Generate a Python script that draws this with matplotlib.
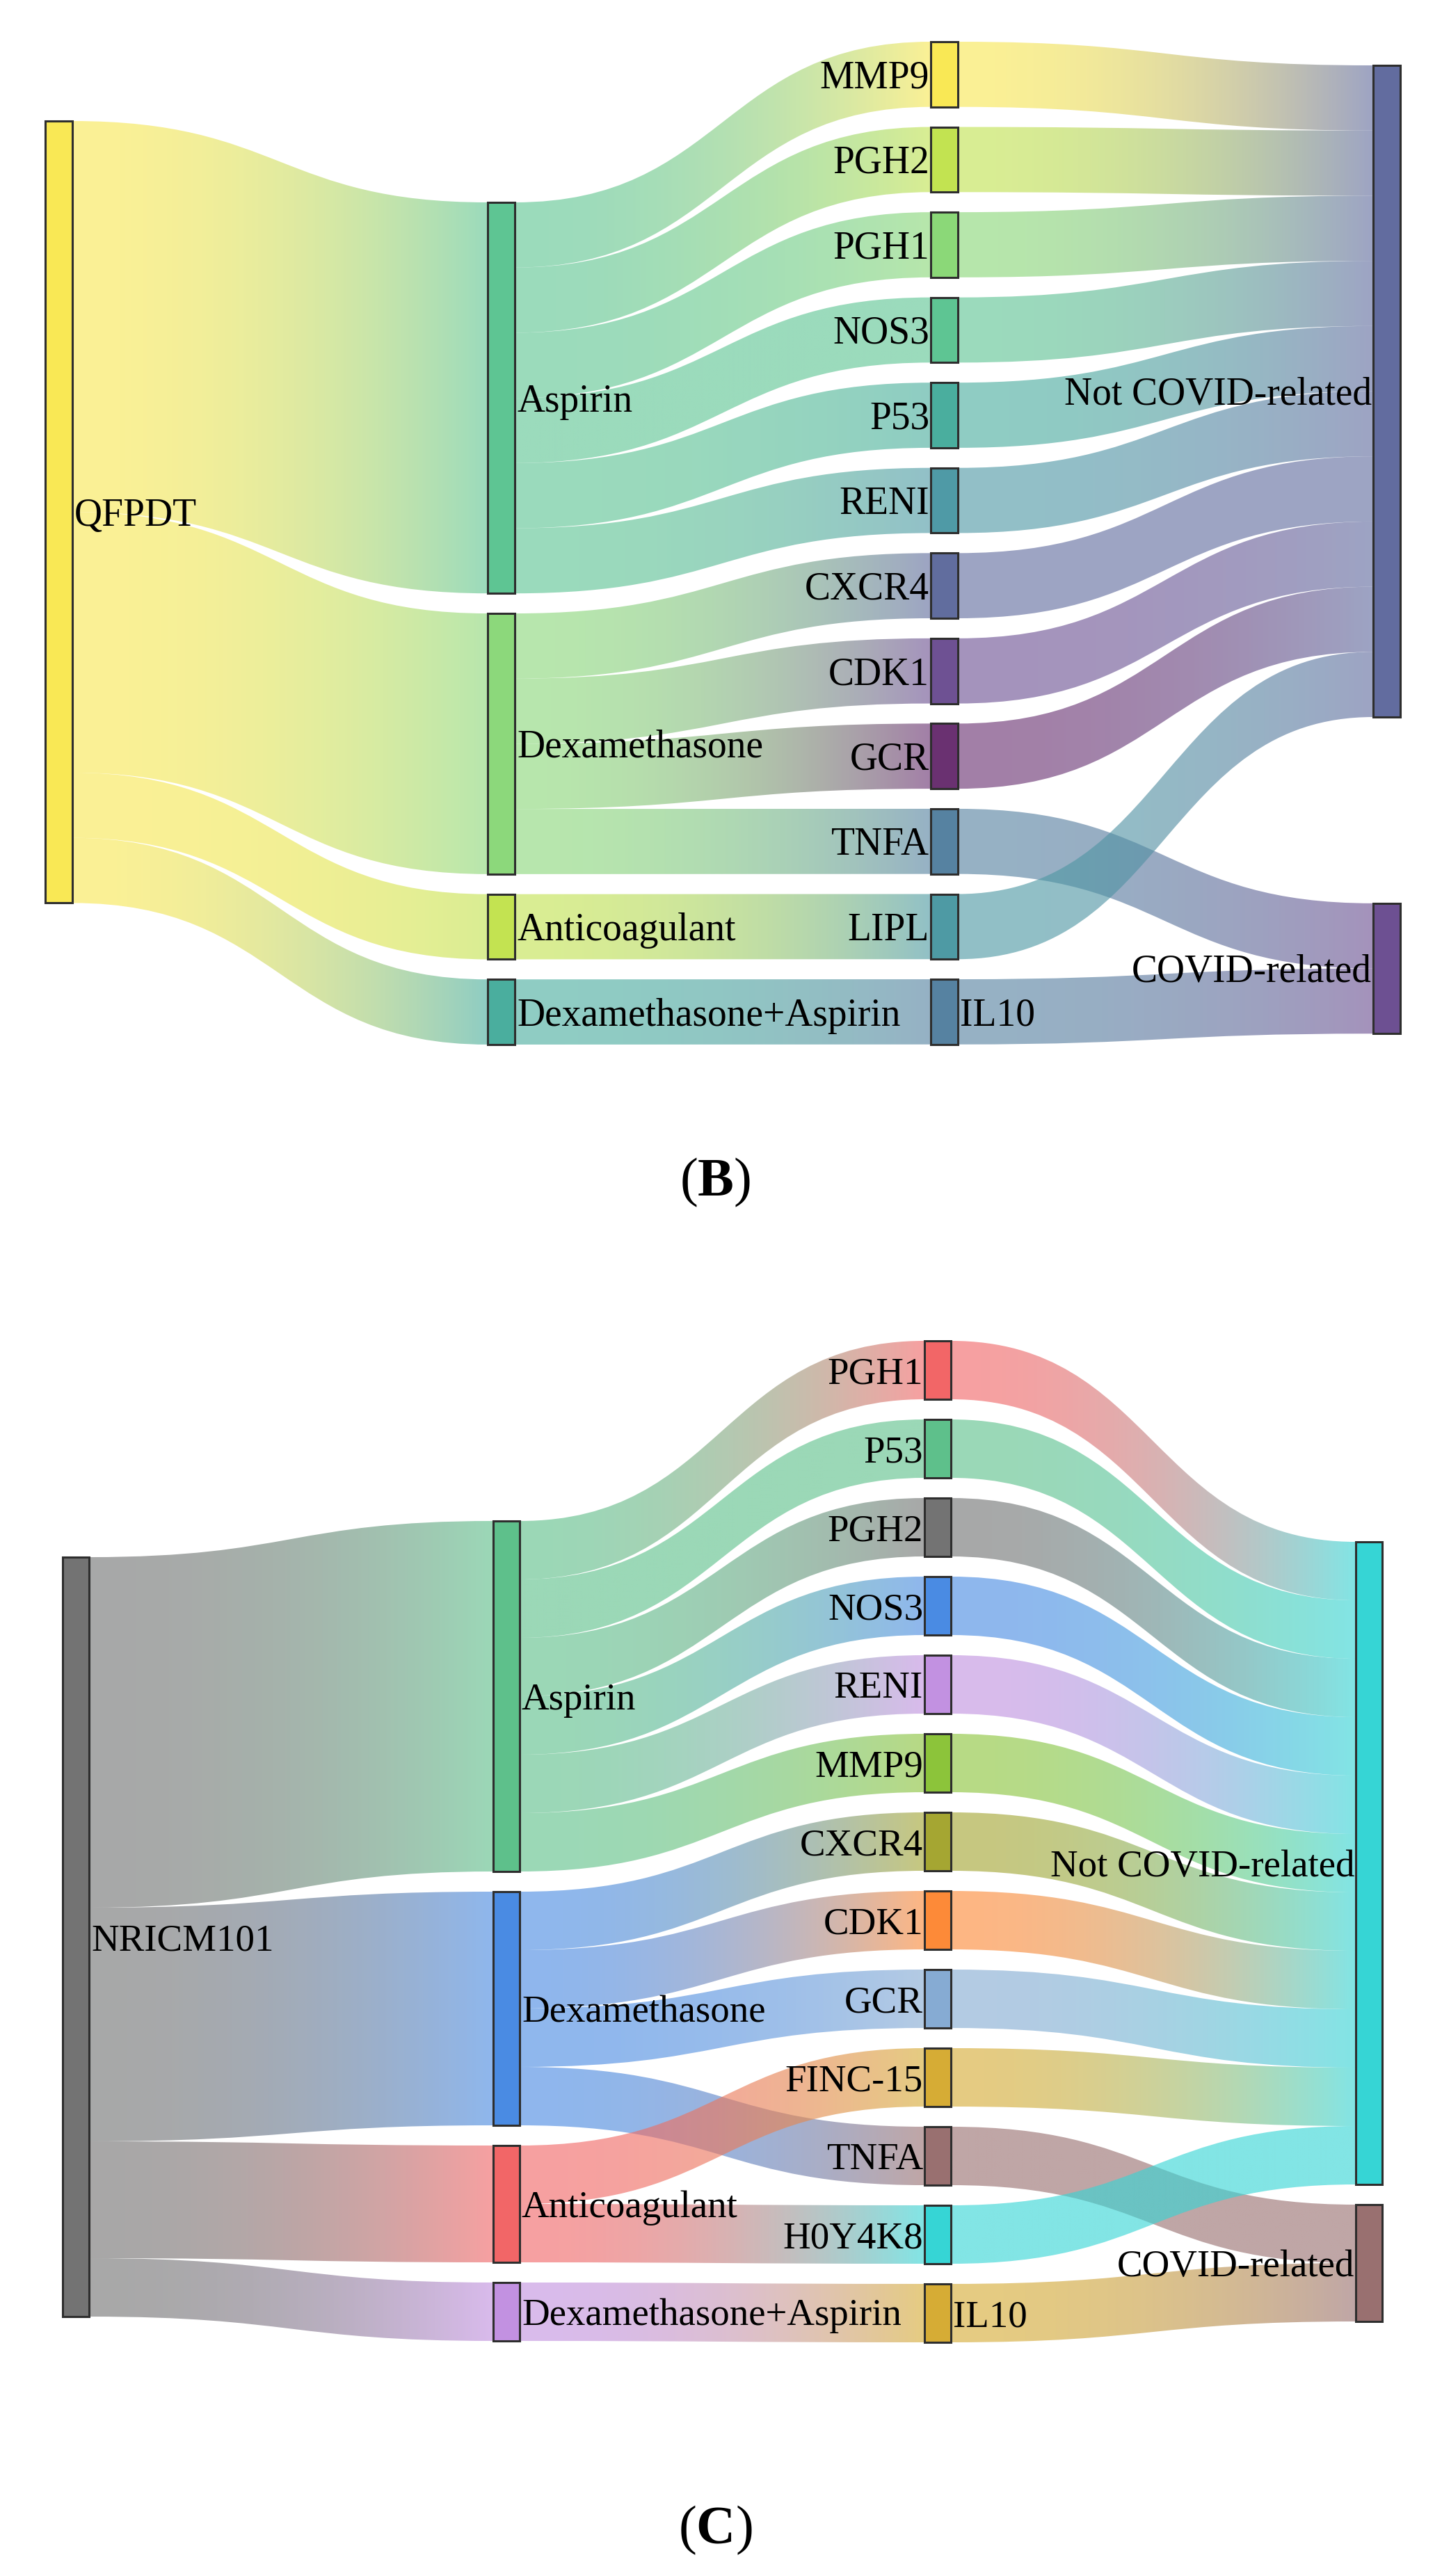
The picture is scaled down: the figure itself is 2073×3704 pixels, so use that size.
import numpy as np
import matplotlib
matplotlib.use("Agg")
import matplotlib.pyplot as plt
from matplotlib.path import Path
from matplotlib.patches import PathPatch, Rectangle
from matplotlib.colors import to_rgb

plt.rcParams['font.family'] = ['Liberation Serif', 'DejaVu Serif']
plt.rcParams['mathtext.fontset'] = 'custom'
plt.rcParams['mathtext.rm'] = 'Liberation Serif'
plt.rcParams['mathtext.bf'] = 'Liberation Serif:bold'

# ---------------- Panel B data ----------------
b_nodes = ["QFPDT",
           "Aspirin", "Dexamethasone", "Anticoagulant", "Dexamethasone+Aspirin",
           "MMP9", "PGH2", "PGH1", "NOS3", "P53", "RENI", "CXCR4", "CDK1", "GCR",
           "TNFA", "LIPL", "IL10",
           "Not COVID-related", "COVID-related"]
b_cols = [0, 1, 1, 1, 1, 2, 2, 2, 2, 2, 2, 2, 2, 2, 2, 2, 2, 3, 3]
b_colors = ["#F9E855",
            "#5EC593", "#8CD87B", "#C3E351", "#4AAE9E",
            "#F9E855", "#C2E351", "#8BD878", "#5EC593", "#4AAE9E", "#4F9AA6",
            "#616D9E", "#6E5193", "#6A3171", "#5682A1", "#4E9AA4", "#5682A1",
            "#626C9F", "#6D5092"]
b_src = ["QFPDT", "QFPDT", "QFPDT", "QFPDT",
         "Aspirin", "Aspirin", "Aspirin", "Aspirin", "Aspirin", "Aspirin",
         "Dexamethasone", "Dexamethasone", "Dexamethasone", "Dexamethasone",
         "Anticoagulant", "Dexamethasone+Aspirin",
         "MMP9", "PGH2", "PGH1", "NOS3", "P53", "RENI", "CXCR4", "CDK1", "GCR",
         "TNFA", "LIPL", "IL10"]
b_tgt = ["Aspirin", "Dexamethasone", "Anticoagulant", "Dexamethasone+Aspirin",
         "MMP9", "PGH2", "PGH1", "NOS3", "P53", "RENI",
         "CXCR4", "CDK1", "GCR", "TNFA",
         "LIPL", "IL10",
         "Not COVID-related", "Not COVID-related", "Not COVID-related", "Not COVID-related",
         "Not COVID-related", "Not COVID-related", "Not COVID-related", "Not COVID-related",
         "Not COVID-related", "COVID-related", "Not COVID-related", "COVID-related"]
b_val = [6, 4, 1, 1,
         1, 1, 1, 1, 1, 1,
         1, 1, 1, 1,
         1, 1,
         1, 1, 1, 1, 1, 1, 1, 1, 1, 1, 1, 1]

# ---------------- Panel C data ----------------
c_nodes = ["NRICM101",
           "Aspirin", "Dexamethasone", "Anticoagulant", "Dexamethasone+Aspirin",
           "PGH1", "P53", "PGH2", "NOS3", "RENI", "MMP9", "CXCR4", "CDK1", "GCR",
           "FINC-15", "TNFA", "H0Y4K8", "IL10",
           "Not COVID-related", "COVID-related"]
c_cols = [0, 1, 1, 1, 1, 2, 2, 2, 2, 2, 2, 2, 2, 2, 2, 2, 2, 2, 3, 3]
c_colors = ["#737373",
            "#5EC08B", "#4A8BE3", "#F26667", "#C291E1",
            "#F26667", "#5EC08B", "#737373", "#4A8BE3", "#C291E1", "#8CC43A",
            "#A5A632", "#FD8A38", "#86ABD3", "#D6AC35", "#997070", "#36D5D5", "#D6AC35",
            "#36D5D5", "#997070"]
c_src = ["NRICM101", "NRICM101", "NRICM101", "NRICM101",
         "Aspirin", "Aspirin", "Aspirin", "Aspirin", "Aspirin", "Aspirin",
         "Dexamethasone", "Dexamethasone", "Dexamethasone", "Dexamethasone",
         "Anticoagulant", "Anticoagulant", "Dexamethasone+Aspirin",
         "PGH1", "P53", "PGH2", "NOS3", "RENI", "MMP9", "CXCR4", "CDK1", "GCR",
         "FINC-15", "TNFA", "H0Y4K8", "IL10"]
c_tgt = ["Aspirin", "Dexamethasone", "Anticoagulant", "Dexamethasone+Aspirin",
         "PGH1", "P53", "PGH2", "NOS3", "RENI", "MMP9",
         "CXCR4", "CDK1", "GCR", "TNFA",
         "FINC-15", "H0Y4K8", "IL10",
         "Not COVID-related", "Not COVID-related", "Not COVID-related", "Not COVID-related",
         "Not COVID-related", "Not COVID-related", "Not COVID-related", "Not COVID-related",
         "Not COVID-related", "Not COVID-related", "COVID-related", "Not COVID-related",
         "COVID-related"]
c_val = [6, 4, 2, 1,
         1, 1, 1, 1, 1, 1,
         1, 1, 1, 1,
         1, 1, 1,
         1, 1, 1, 1, 1, 1, 1, 1, 1, 1, 1, 1, 1]

# ---------------- layout (pixel space of the figure) ----------------
W, H = 2073, 3704
layout_b = dict(col_x=[65, 701, 1338, 1974], node_w=39, unit=93.7, pad=28.85,
                col_top=[174, 291, 60, 94], extra_gap={"COVID-related": 239},
                right_labels={"IL10"}, fontsize=40)
layout_c = dict(col_x=[90, 709, 1329, 1949], node_w=38, unit=84.0, pad=29.0,
                col_top=[2239, 2187, 1928, 2217], extra_gap={},
                right_labels={"IL10"}, fontsize=39.5)
LINK_ALPHA = 0.62
EDGE = "#2E2E2E"


def draw_sankey(ax, nodes, cols, colors, src, tgt, val, lay):
    unit, pad, w = lay['unit'], lay['pad'], lay['node_w']
    xs, tops, gaps = lay['col_x'], lay['col_top'], lay['extra_gap']
    n = len(nodes)
    idx = {name: i for i, name in enumerate(nodes)}
    inflow = np.zeros(n)
    outflow = np.zeros(n)
    links = list(zip(src, tgt, val))
    for s, t, v in links:
        outflow[idx[s]] += v
        inflow[idx[t]] += v
    nval = np.maximum(inflow, outflow)
    y0 = np.zeros(n)
    cursor = {}
    for i in range(n):
        c = cols[i]
        if c not in cursor:
            cursor[c] = tops[c]
        else:
            cursor[c] += pad
        cursor[c] += gaps.get(nodes[i], 0)
        y0[i] = cursor[c]
        cursor[c] += nval[i] * unit

    out_off, in_off = {}, {}
    for i in range(n):
        outs = sorted([k for k, l in enumerate(links) if idx[l[0]] == i],
                      key=lambda k: y0[idx[links[k][1]]])
        off = y0[i]
        for k in outs:
            out_off[k] = off
            off += links[k][2] * unit
        ins = sorted([k for k, l in enumerate(links) if idx[l[1]] == i],
                     key=lambda k: y0[idx[links[k][0]]])
        off = y0[i]
        for k in ins:
            in_off[k] = off
            off += links[k][2] * unit

    tt = np.linspace(0, 1, 400)
    ss = tt ** 2
    for k, (s, t, v) in enumerate(links):
        si, ti = idx[s], idx[t]
        xa = xs[cols[si]] + w
        xb = xs[cols[ti]]
        ya, yb, h = out_off[k], in_off[k], v * unit
        xm = (xa + xb) / 2
        verts = [(xa, ya), (xm, ya), (xm, yb), (xb, yb), (xb, yb + h),
                 (xm, yb + h), (xm, ya + h), (xa, ya + h), (xa, ya)]
        codes = [Path.MOVETO, Path.CURVE4, Path.CURVE4, Path.CURVE4, Path.LINETO,
                 Path.CURVE4, Path.CURVE4, Path.CURVE4, Path.CLOSEPOLY]
        patch = PathPatch(Path(verts, codes), facecolor='none', edgecolor='none')
        ax.add_patch(patch)
        c0 = np.array(to_rgb(colors[si]))
        c1 = np.array(to_rgb(colors[ti]))
        rgb = c0[None, :] * (1 - ss[:, None]) + c1[None, :] * ss[:, None]
        img = np.concatenate([rgb, np.full((len(tt), 1), LINK_ALPHA)], axis=1)[None, :, :]
        ylo = min(ya, yb) - 2
        yhi = max(ya, yb) + h + 2
        im = ax.imshow(img, extent=(xa, xb, yhi, ylo), aspect='auto',
                       interpolation='bilinear', zorder=1)
        im.set_clip_path(patch)

    fs = lay['fontsize']
    fs_px = fs * 100 / 72
    for i in range(n):
        h = nval[i] * unit
        x = xs[cols[i]]
        ax.add_patch(Rectangle((x, y0[i]), w, h, facecolor=colors[i],
                               edgecolor=EDGE, lw=2.2, zorder=3))
        yc = y0[i] + h / 2 + 0.35 * fs_px
        if cols[i] <= 1 or nodes[i] in lay['right_labels']:
            ax.text(x + w + 3, yc, nodes[i], ha='left', va='baseline',
                    fontsize=fs, color='black', zorder=4)
        else:
            ax.text(x - 2, yc, nodes[i], ha='right', va='baseline',
                    fontsize=fs, color='black', zorder=4)


fig = plt.figure(figsize=(W / 100, H / 100), dpi=100)
ax = fig.add_axes([0, 0, 1, 1])
ax.set_autoscale_on(False)
ax.set_xlim(0, W)
ax.set_ylim(H, 0)
ax.axis('off')

draw_sankey(ax, b_nodes, b_cols, b_colors, b_src, b_tgt, b_val, layout_b)
draw_sankey(ax, c_nodes, c_cols, c_colors, c_src, c_tgt, c_val, layout_c)

ax.text(1028, 1719, r"($\mathbf{B}$)", ha='center', va='baseline', fontsize=56)
ax.text(1028, 3657, r"($\mathbf{C}$)", ha='center', va='baseline', fontsize=56)

ax.set_xlim(0, W)
ax.set_ylim(H, 0)
fig.savefig("out.png", dpi=100, facecolor='white')
